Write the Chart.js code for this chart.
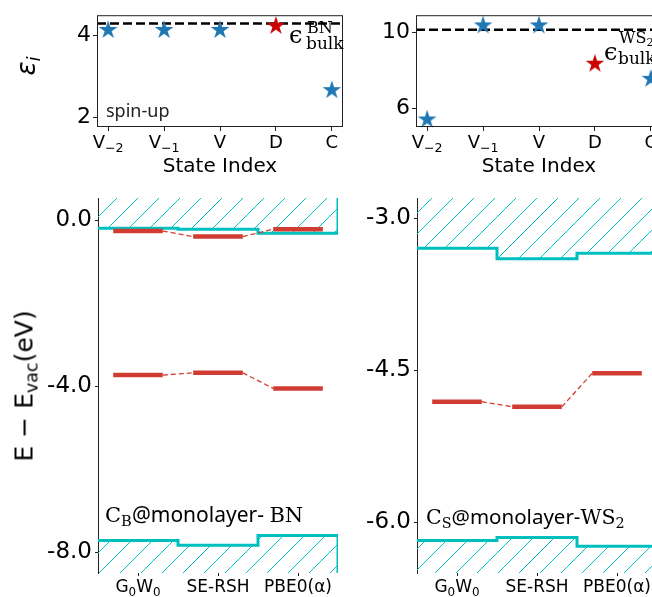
<!DOCTYPE html>
<html>
<head>
<meta charset="utf-8">
<script src="https://cdn.jsdelivr.net/npm/chart.js@4/dist/chart.umd.min.js"></script>
<style>
  html, body { margin: 0; padding: 0; background: #fff; overflow: hidden; width: 652px; height: 597px; }
  canvas { position: absolute; left: 0; top: 0; }
  .t { position: absolute; white-space: nowrap; color: #000; font-family: "DejaVu Sans", sans-serif; line-height: 1; }
  .serif { font-family: "DejaVu Serif", serif; }
  .sans { font-family: "Noto Sans", sans-serif; }
  .rot { transform: translate(-50%, -50%) rotate(-90deg); }
  sub { font-size: 0.7em; vertical-align: -0.3em; line-height: 0; }
</style>
</head>
<body>
<canvas id="epsBN" width="700" height="597"></canvas>
<canvas id="epsWS2" width="700" height="597"></canvas>
<canvas id="lvlBN" width="700" height="597"></canvas>
<canvas id="lvlWS2" width="700" height="597"></canvas>

<div class="t rot" style="left:26px;top:66px;font-size:26px;font-style:italic">ε<sub>i</sub></div>
<div class="t" style="left:220px;top:155px;font-size:20px;transform:translateX(-50%)">State Index</div>
<div class="t" style="left:539px;top:155px;font-size:20px;transform:translateX(-50%)">State Index</div>
<div class="t sans" style="left:106px;top:101px;font-size:18px;color:#222">spin-up</div>
<div class="t serif" style="left:289px;top:23px;font-size:24px">ϵ</div>
<div class="t serif" style="left:307px;top:20px;font-size:16px">BN</div>
<div class="t serif" style="left:306px;top:35px;font-size:17px">bulk</div>
<div class="t serif" style="left:604px;top:40px;font-size:24px">ϵ</div>
<div class="t serif" style="left:619px;top:30px;font-size:16px">WS<sub>2</sub></div>
<div class="t serif" style="left:618px;top:50px;font-size:17px">bulk</div>
<div class="t rot" style="left:24px;top:386px;font-size:25px">E − E<sub>vac</sub>(eV)</div>
<div class="t" style="left:105px;top:504px;font-size:21px"><span class="serif">C<sub>B</sub></span><span class="sans">@monolayer- </span><span class="serif">BN</span></div>
<div class="t" style="left:426px;top:506px;font-size:20.5px"><span class="serif">C<sub>S</sub></span><span class="sans">@monolayer-</span><span class="serif">WS<sub>2</sub></span></div>

<script>
// dielectric profile per state (top row); "_{..}" marks a subscript in tick labels
const STATES = ["V_{−2}", "V_{−1}", "V", "D", "C"];
const STATE_POS = [0, 1, 2, 3, 4];
const EPS_BN = [4.14, 4.14, 4.14, 4.24, 2.67];
const EPS_WS2 = [5.40, 10.38, 10.38, 8.35, 7.55];
const BULK_BN = 4.30;
const BULK_WS2 = 10.15;
const DEFECT_IDX = 3;            // the defect state gets the red star
const EPS_BN_TICKS = [2, 4];
const EPS_WS2_TICKS = [6, 10];

// level alignment per method (bottom row), eV vs vacuum
const METHODS = ["G_{0}W_{0}", "SE-RSH", "PBE0(α)"];
const METHOD_POS = [0.5, 1.5, 2.5];
const BN_CBM = [-0.20, -0.22, -0.32];
const BN_VBM = [-7.72, -7.83, -7.60];
const BN_LEVEL_UP = [-0.265, -0.40, -0.22];
const BN_LEVEL_LOW = [-3.735, -3.68, -4.055];
const WS2_CBM = [-3.295, -3.40, -3.345];
const WS2_VBM = [-6.18, -6.15, -6.235];
const WS2_LEVEL = [-4.81, -4.86, -4.53];
const BN_TICKS = [0, -4, -8];
const WS2_TICKS = [-3, -4.5, -6];

const W = 700, H = 597;
const CYAN = "#00bfbf", RED = "#d13c32", BLUE = "#1f77b4", STAR_RED = "#cc0000", INK = "#222";
const FONT = "'DejaVu Sans', sans-serif";
const LEVEL_SPAN = [0.19, 0.81]; // level bar extent inside each method slot

function starImg(color, r) {
  const c = document.createElement("canvas");
  const s = Math.ceil(r * 2) + 2;
  c.width = c.height = s;
  const g = c.getContext("2d");
  g.fillStyle = color;
  g.beginPath();
  for (let k = 0; k < 10; k++) {
    const a = -Math.PI / 2 + k * Math.PI / 5;
    const rr = k % 2 ? r * 0.381 : r;
    g.lineTo(s / 2 + rr * Math.cos(a), s / 2 + rr * Math.sin(a));
  }
  g.closePath();
  g.fill();
  return c;
}

function hatch(ctx, color, step) {
  const c = document.createElement("canvas");
  c.width = c.height = step;
  const g = c.getContext("2d");
  g.strokeStyle = color;
  g.lineWidth = 1;
  g.beginPath();
  g.moveTo(-1, step + 1);
  g.lineTo(step + 1, -1);
  g.stroke();
  return ctx.createPattern(c, "repeat");
}

// fixes the plot box: area = {l, t, r, b} in page pixels
function boxLayout(area, yW, xH) {
  return { autoPadding: false,
    padding: { left: area.l - yW, top: area.t, right: W - area.r, bottom: H - area.b - xH } };
}
const fixW = (w) => (s) => { s.width = w; };
const fixH = (h) => (s) => { s.height = h; };
const setTicks = (vals) => (s) => { s.ticks = vals.map(v => ({ value: v })); };

// "G_{0}W_{0}" -> [{t:"G"},{t:"0",sub:true},...]
function parseLabel(s) {
  const out = [];
  s.split(/(_\{[^}]*\})/).forEach(p => {
    if (!p) return;
    const m = p.match(/^_\{([^}]*)\}$/);
    out.push(m ? { t: m[1], sub: true } : { t: p, sub: false });
  });
  return out;
}

const frame = {
  id: "frame",
  afterDatasetsDraw(c) {
    const a = c.chartArea, g = c.ctx;
    g.save();
    g.strokeStyle = INK;
    g.lineWidth = 1;
    g.strokeRect(a.left + 0.5, a.top + 0.5, a.right - a.left - 1, a.bottom - a.top - 1);
    g.restore();
  },
};

// x tick labels with mathtext-like subscripts, placed from the x scale
const richTicks = {
  id: "richTicks",
  afterDraw(c, args, o) {
    const s = c.scales.x, g = c.ctx;
    const base = c.chartArea.bottom + o.baseline;
    g.save();
    g.fillStyle = "#000";
    g.textBaseline = "alphabetic";
    g.textAlign = "left";
    o.labels.forEach((lab, i) => {
      const parts = parseLabel(lab);
      let w = 0;
      parts.forEach(p => {
        p.size = p.sub ? o.size * 0.7 : o.size;
        g.font = `${p.size}px ${FONT}`;
        p.w = g.measureText(p.t).width;
        w += p.w;
      });
      let x = s.getPixelForValue(o.pos[i]) - w / 2;
      parts.forEach(p => {
        g.font = `${p.size}px ${FONT}`;
        g.fillText(p.t, x, p.sub ? base + o.size * 0.22 : base);
        x += p.w;
      });
    });
    g.restore();
  },
};

const blueStar = starImg(BLUE, 9.8), redStar = starImg(STAR_RED, 9.8);

function epsChart(id, area, xlim, ylim, yticks, eps, bulk) {
  const pts = eps.map((v, i) => ({ x: STATE_POS[i], y: v }));
  return new Chart(document.getElementById(id), {
    type: "line",
    data: { datasets: [
      { data: pts.filter((p, i) => i === DEFECT_IDX), showLine: false, pointStyle: redStar, clip: false },
      { data: pts.filter((p, i) => i !== DEFECT_IDX), showLine: false, pointStyle: blueStar, clip: false },
      { data: [{ x: xlim[0], y: bulk }, { x: xlim[1], y: bulk }], borderColor: "#000", borderWidth: 2.5,
        borderDash: [9, 4], pointRadius: 0 },
    ] },
    options: {
      responsive: false, animation: false, events: [],
      layout: boxLayout(area, 90, 50),
      plugins: { legend: { display: false }, tooltip: { enabled: false },
                 richTicks: { labels: STATES, pos: STATE_POS, size: 18, baseline: 21 } },
      scales: {
        x: { type: "linear", min: xlim[0], max: xlim[1], afterFit: fixH(50), afterBuildTicks: setTicks(STATE_POS),
             border: { display: false },
             grid: { drawOnChartArea: false, tickLength: 4, color: INK },
             ticks: { display: false } },
        y: { min: ylim[0], max: ylim[1], afterFit: fixW(90), afterBuildTicks: setTicks(yticks),
             border: { display: false },
             grid: { drawOnChartArea: false, tickLength: 4, color: INK },
             ticks: { color: "#000", padding: 2, font: { family: FONT, size: 22 } } },
      },
    },
    plugins: [frame, richTicks],
  });
}

function levelChart(id, area, ylim, yticks, cbm, vbm, levelSets) {
  const canvas = document.getElementById(id);
  const pat = hatch(canvas.getContext("2d"), CYAN, 21);
  const n = METHODS.length;
  const edge = (vals, cap) => vals.map((v, i) => ({ x: i, y: v }))
    .concat([{ x: n, y: vals[n - 1] }, { x: n, y: cap }]);
  const ds = [];
  levelSets.forEach(lv => {
    lv.forEach((v, i) => ds.push({ data: [{ x: i + LEVEL_SPAN[0], y: v }, { x: i + LEVEL_SPAN[1], y: v }],
      borderColor: RED, borderWidth: 4.5, borderCapStyle: "butt", pointRadius: 0 }));
    for (let i = 0; i < n - 1; i++) {
      ds.push({ data: [{ x: i + LEVEL_SPAN[1], y: lv[i] }, { x: i + 1 + LEVEL_SPAN[0], y: lv[i + 1] }],
        borderColor: RED, borderWidth: 1.3, borderDash: [5, 3], pointRadius: 0 });
    }
  });
  ds.push({ data: edge(cbm, ylim[1] + 1), stepped: true, borderColor: CYAN, borderWidth: 3,
    fill: "end", backgroundColor: pat, pointRadius: 0 });
  ds.push({ data: edge(vbm, ylim[0] - 1), stepped: true, borderColor: CYAN, borderWidth: 3,
    fill: "start", backgroundColor: pat, pointRadius: 0 });
  return new Chart(canvas, {
    type: "line",
    data: { datasets: ds },
    options: {
      responsive: false, animation: false, events: [],
      layout: boxLayout(area, 90, 30),
      plugins: { legend: { display: false }, tooltip: { enabled: false },
                 richTicks: { labels: METHODS, pos: METHOD_POS, size: 17, baseline: 19 } },
      scales: {
        x: { type: "linear", min: 0, max: n, afterFit: fixH(30), afterBuildTicks: setTicks(METHOD_POS),
             border: { display: false },
             grid: { drawOnChartArea: false, tickLength: 3, color: INK },
             ticks: { display: false } },
        y: { min: ylim[0], max: ylim[1], afterFit: fixW(90), afterBuildTicks: setTicks(yticks),
             border: { display: true, color: INK, width: 1 },
             grid: { drawOnChartArea: false, tickLength: 3, color: INK },
             ticks: { callback: v => v.toFixed(1), color: "#000", padding: 3, font: { family: FONT, size: 23 } } },
      },
    },
    plugins: [richTicks],
  });
}

Chart.defaults.font.family = FONT;
epsChart("epsBN", { l: 97, t: 7, r: 343, b: 127 }, [-0.2, 4.2], [1.77, 4.5], EPS_BN_TICKS, EPS_BN, BULK_BN);
epsChart("epsWS2", { l: 416, t: 8, r: 662, b: 127 }, [-0.2, 4.2], [5.0, 10.92], EPS_WS2_TICKS, EPS_WS2, BULK_WS2);
levelChart("lvlBN", { l: 98, t: 198, r: 338, b: 573 }, [-8.5, 0.53], BN_TICKS, BN_CBM, BN_VBM, [BN_LEVEL_UP, BN_LEVEL_LOW]);
levelChart("lvlWS2", { l: 417, t: 198, r: 657, b: 573 }, [-6.5, -2.8], WS2_TICKS, WS2_CBM, WS2_VBM, [WS2_LEVEL]);
</script>
</body>
</html>
